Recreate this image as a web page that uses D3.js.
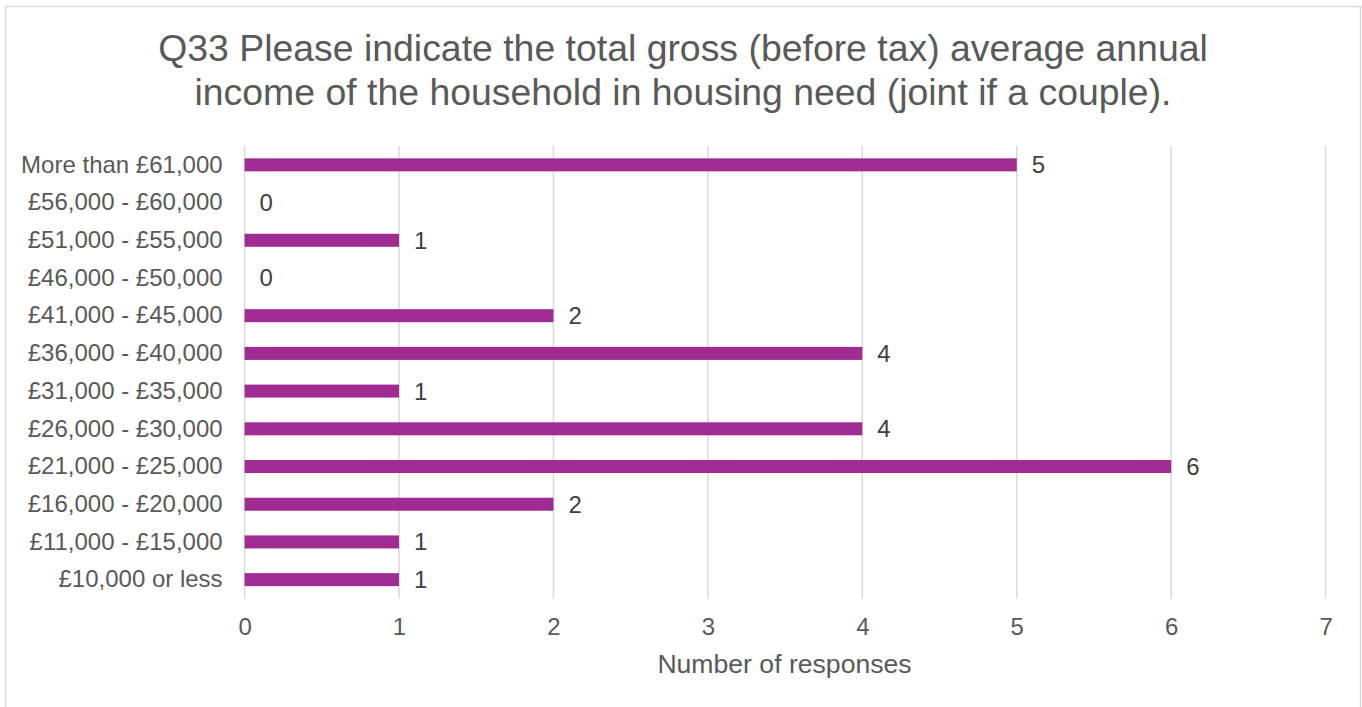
<!DOCTYPE html>
<html>
<head>
<meta charset="utf-8">
<script src="https://cdn.jsdelivr.net/npm/d3@7"></script>
<style>
  html, body { margin: 0; padding: 0; background: #fff; }
  svg { display: block; font-family: "Liberation Sans", Arial, sans-serif; }
</style>
</head>
<body>
<svg id="chart" width="1362" height="707"></svg>
<script>
// Income bands, listed top to bottom as shown
const categories = [
  "More than £61,000",
  "£56,000 - £60,000",
  "£51,000 - £55,000",
  "£46,000 - £50,000",
  "£41,000 - £45,000",
  "£36,000 - £40,000",
  "£31,000 - £35,000",
  "£26,000 - £30,000",
  "£21,000 - £25,000",
  "£16,000 - £20,000",
  "£11,000 - £15,000",
  "£10,000 or less"
];
const responses = [5, 0, 1, 0, 2, 4, 1, 4, 6, 2, 1, 1];
const xTicks = [0, 1, 2, 3, 4, 5, 6, 7];
const titleLines = [
  "Q33 Please indicate the total gross (before tax) average annual",
  "income of the household in housing need (joint if a couple)."
];
const xAxisTitle = "Number of responses";

const svg = d3.select("#chart");
const W = 1362, H = 707;
const textColor = "#595959";

// outer chart border
svg.append("rect")
  .attr("x", 5.5).attr("y", 6.5)
  .attr("width", W - 7).attr("height", H + 10)
  .attr("fill", "#fff").attr("stroke", "#d9d9d9").attr("stroke-width", 1.5);

const plot = { left: 244.6, right: 1325.6, top: 146, bottom: 598.5 };

const x = d3.scaleLinear().domain([0, 7]).range([plot.left, plot.right]);
const y = d3.scaleBand().domain(categories).range([plot.top, plot.bottom]).paddingInner(0.655).paddingOuter(0.3275);

// title
svg.append("g").selectAll("text").data(titleLines).join("text")
  .attr("x", 683).attr("y", (d, i) => 61 + i * 44)
  .attr("text-anchor", "middle")
  .attr("fill", textColor)
  .style("font-size", "37.4px")
  .text(d => d);

// vertical gridlines
svg.append("g").selectAll("line").data(xTicks).join("line")
  .attr("x1", d => x(d)).attr("x2", d => x(d))
  .attr("y1", plot.top).attr("y2", plot.bottom)
  .attr("stroke", "#d9d9d9").attr("stroke-width", 1.5);

// x axis tick labels
const xAxis = d3.axisBottom(x).tickValues(xTicks).tickSize(0).tickPadding(0).tickFormat(d3.format("d"));
const gx = svg.append("g").attr("transform", `translate(0,635)`).call(xAxis);
gx.select(".domain").remove();
gx.selectAll("text")
  .attr("fill", textColor)
  .attr("dy", "0")
  .style("font-size", "24px")
  .style("font-family", "Liberation Sans, Arial, sans-serif");

// y axis category labels
const yAxis = d3.axisLeft(y).tickSize(0).tickPadding(0);
const gy = svg.append("g").attr("transform", `translate(${plot.left - 22},0)`).call(yAxis);
gy.select(".domain").remove();
gy.selectAll("text")
  .attr("fill", textColor)
  .style("font-size", "24px")
  .style("font-family", "Liberation Sans, Arial, sans-serif");

// bars
svg.append("g").selectAll("rect").data(categories).join("rect")
  .attr("x", x(0))
  .attr("y", d => y(d))
  .attr("width", (d, i) => x(responses[i]) - x(0))
  .attr("height", y.bandwidth())
  .attr("fill", "#a02b93");

// value labels
svg.append("g").selectAll("text").data(categories).join("text")
  .attr("x", (d, i) => x(responses[i]) + 15)
  .attr("y", d => y(d) + y.bandwidth() / 2)
  .attr("dy", "0.35em")
  .attr("fill", "#404040")
  .style("font-size", "24px")
  .text((d, i) => responses[i]);

// x axis title
svg.append("text")
  .attr("x", 784.5).attr("y", 672.5)
  .attr("text-anchor", "middle")
  .attr("fill", textColor)
  .style("font-size", "26.6px")
  .text(xAxisTitle);
</script>
</body>
</html>
